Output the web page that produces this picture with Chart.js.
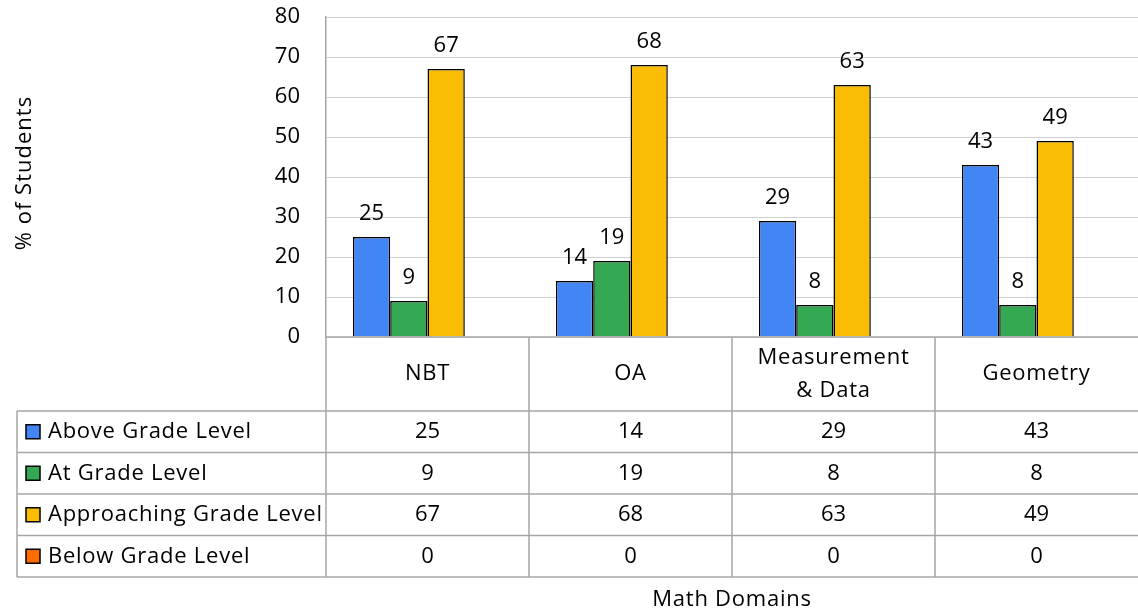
<!DOCTYPE html>
<html>
<head>
<meta charset="utf-8">
<script src="https://cdn.jsdelivr.net/npm/chart.js@4"></script>
<style>
    body { margin: 0; background: #fff; }
    #wrap { width: 1138px; height: 613px; }
</style>
</head>
<body>
<div id="wrap"><canvas id="gradeChart" width="1138" height="613"></canvas></div>
<script>
const domains = ['NBT', 'OA', ['Measurement', '& Data'], 'Geometry'];
const seriesNames = ['Above Grade Level', 'At Grade Level', 'Approaching Grade Level', 'Below Grade Level'];
const aboveGrade = [25, 14, 29, 43];
const atGrade = [9, 19, 8, 8];
const approachingGrade = [67, 68, 63, 49];
const belowGrade = [0, 0, 0, 0];
const yTicks = [0, 10, 20, 30, 40, 50, 60, 70, 80];
const seriesColors = ['#4285f4', '#34a853', '#fbbc04', '#ff6d01'];

const fontFamily = "'Open Sans', 'Noto Sans', sans-serif";
const lineGray = '#a6a6a6';

// table geometry below the plot
const headerBottom = 411;
const rowHeight = 41.5;
const tableLeft = 17;

const tablePlugin = {
    id: 'dataTable',
    afterDraw(chart) {
        const ctx = chart.ctx;
        const x = chart.scales.x;
        const area = chart.chartArea;
        const colW = (area.right - area.left) / domains.length;
        const tableBottom = headerBottom + rowHeight * seriesNames.length;

        ctx.save();
        ctx.strokeStyle = lineGray;
        ctx.lineWidth = 1.5;

        // horizontal lines
        ctx.beginPath();
        ctx.moveTo(area.left, area.bottom);
        ctx.lineTo(chart.width, area.bottom);
        for (let r = 0; r <= seriesNames.length; r++) {
            const yy = headerBottom + r * rowHeight;
            ctx.moveTo(tableLeft, yy);
            ctx.lineTo(chart.width, yy);
        }
        // vertical lines
        ctx.moveTo(tableLeft, headerBottom);
        ctx.lineTo(tableLeft, tableBottom);
        ctx.moveTo(area.left, area.bottom);
        ctx.lineTo(area.left, tableBottom);
        for (let c = 1; c < domains.length; c++) {
            const xx = area.left + c * colW;
            ctx.moveTo(xx, area.bottom);
            ctx.lineTo(xx, tableBottom);
        }
        ctx.stroke();

        ctx.font = '22px ' + fontFamily;
        ctx.fillStyle = '#000';
        ctx.textAlign = 'center';
        ctx.textBaseline = 'middle';
        ctx.letterSpacing = '0.75px';

        // header labels
        const headerMid = (area.bottom + headerBottom) / 2;
        domains.forEach((d, i) => {
            const cx = x.getPixelForValue(i);
            const lines = Array.isArray(d) ? d : [d];
            lines.forEach((ln, j) => {
                const yy = headerMid + (j - (lines.length - 1) / 2) * 33;
                ctx.fillText(ln, cx, yy);
            });
        });

        // rows
        const allData = [aboveGrade, atGrade, approachingGrade, belowGrade];
        seriesNames.forEach((name, r) => {
            const yy = headerBottom + r * rowHeight + rowHeight / 2;
            ctx.fillStyle = seriesColors[r];
            ctx.fillRect(26, yy - 7, 14, 14);
            ctx.strokeStyle = '#000';
            ctx.lineWidth = 1.5;
            ctx.strokeRect(26, yy - 7, 14, 14);
            ctx.fillStyle = '#000';
            ctx.textAlign = 'left';
            ctx.letterSpacing = '0.75px';
            ctx.fillText(name, 48, yy);
            ctx.textAlign = 'center';
            ctx.letterSpacing = '0px';
            allData[r].forEach((v, i) => {
                ctx.fillText(String(v), x.getPixelForValue(i), yy);
            });
        });

        // axis titles
        ctx.letterSpacing = '0.75px';
        ctx.fillText('Math Domains', (area.left + area.right) / 2, 600);
        ctx.translate(25, 173);
        ctx.rotate(-Math.PI / 2);
        ctx.letterSpacing = '1px';
        ctx.fillText('% of Students', 0, 0);
        ctx.restore();
    }
};

const valueLabels = {
    id: 'valueLabels',
    afterDatasetsDraw(chart) {
        const ctx = chart.ctx;
        ctx.save();
        ctx.font = '22px ' + fontFamily;
        ctx.fillStyle = '#000';
        ctx.textAlign = 'center';
        ctx.textBaseline = 'alphabetic';
        chart.data.datasets.forEach((ds, di) => {
            chart.getDatasetMeta(di).data.forEach((bar, i) => {
                if (!ds.data[i]) return;
                ctx.fillText(String(ds.data[i]), bar.x, bar.y - 17);
            });
        });
        ctx.restore();
    }
};

function initChart() {
    Chart.defaults.font.family = fontFamily;
    Chart.defaults.font.size = 22;
    Chart.defaults.color = '#000';

    const ctx = document.getElementById('gradeChart').getContext('2d');
    const sets = [aboveGrade, atGrade, approachingGrade, belowGrade];
    new Chart(ctx, {
        type: 'bar',
        data: {
            labels: domains,
            datasets: sets.map((d, i) => ({
                label: seriesNames[i],
                data: d,
                backgroundColor: seriesColors[i],
                borderColor: '#000',
                borderWidth: 1.5,
                barPercentage: 1,
                categoryPercentage: 0.735
            }))
        },
        options: {
            responsive: false,
            animation: false,
            layout: { padding: { top: 17, bottom: 276, left: 0, right: -4 } },
            plugins: {
                legend: { display: false },
                tooltip: { enabled: false }
            },
            scales: {
                x: { display: false },
                y: {
                    min: 0,
                    max: 80,
                    afterFit(scale) { scale.width = 326; },
                    afterBuildTicks(scale) { scale.ticks = yTicks.map(v => ({ value: v })); },
                    ticks: { padding: 0, font: { size: 22 } },
                    grid: {
                        color: '#d0d0d0',
                        lineWidth: 1,
                        drawTicks: true,
                        tickLength: 26,
                        tickColor: 'rgba(0,0,0,0)'
                    },
                    border: { display: true, color: lineGray, width: 1.5 }
                }
            }
        },
        plugins: [valueLabels, tablePlugin]
    });
}

document.addEventListener('DOMContentLoaded', function() {
    initChart();
});
</script>
</body>
</html>
